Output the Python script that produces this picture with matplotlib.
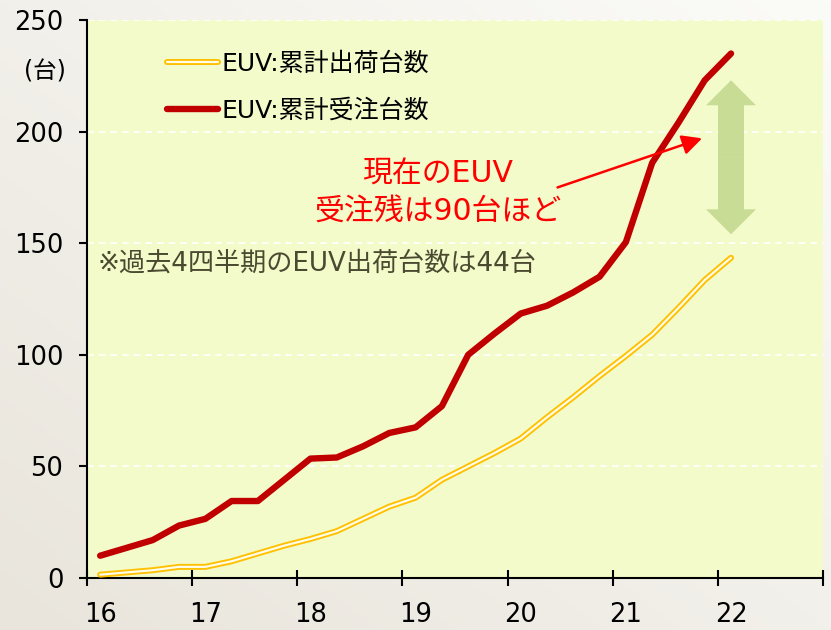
import numpy as np
import matplotlib
matplotlib.use("Agg")
import matplotlib.pyplot as plt
from matplotlib.lines import Line2D
from matplotlib.legend_handler import HandlerTuple

plt.rcParams['font.family'] = ['DejaVu Sans', 'Noto Sans CJK JP']

# 四半期ごとの累計台数 (16Q1 - 22Q1)
year_labels = ["16", "17", "18", "19", "20", "21", "22"]
orders = [10, 13.5, 17, 23.5, 26.5, 34.5, 34.5, 44, 53.5, 54, 59, 65, 67.5, 77,
          100, 109.5, 118.5, 122, 128, 135, 150.5, 186, 204, 223, 235]
shipments = [1.5, 2.5, 3.5, 5, 5, 7.5, 11, 14.5, 17.5, 21, 26.5, 32, 36, 44,
             50, 56, 62.5, 72, 81, 90.5, 99.5, 109, 121, 133.5, 143.5]

x = np.arange(len(orders))
n_cat = 4 * len(year_labels)

fig = plt.figure(figsize=(8.31, 6.30), dpi=100)
fig.patch.set_facecolor('#efede6')

# 背景のグラデーション
bg = fig.add_axes([0, 0, 1, 1], zorder=-10)
gx, gy = np.meshgrid(np.linspace(0, 1, 200), np.linspace(0, 1, 200))
grad = 0.5 * gx + 0.5 * (1 - gy)
bg.imshow(grad, cmap=matplotlib.colors.LinearSegmentedColormap.from_list(
    'bgc', ['#e9e5dc', '#fbfbf8']), aspect='auto', extent=[0, 1, 0, 1])
bg.axis('off')

ax = fig.add_axes([0.1047, 0.0825, 0.8857, 0.8857])
ax.set_facecolor('#f4fbcb')

ax.set_xlim(-0.5, n_cat - 0.5)
ax.set_ylim(0, 250)

ax.yaxis.grid(True, color='white', linestyle=(0, (4, 3)), linewidth=1.2)
ax.set_axisbelow(True)

# 出荷 (二重線)
ax.plot(x, shipments, color='#ffc000', linewidth=4.3, solid_capstyle='round',
        solid_joinstyle='round', zorder=3)
ax.plot(x, shipments, color='#fffde8', linewidth=1.6, solid_capstyle='round',
        solid_joinstyle='round', zorder=4)
# 受注
ax.plot(x, orders, color='#c00000', linewidth=4.6, solid_capstyle='round',
        solid_joinstyle='round', zorder=5)

# 凡例
h_ship = (Line2D([], [], color='#ffc000', linewidth=4.3, solid_capstyle='round'),
          Line2D([], [], color='#fffde8', linewidth=1.6, solid_capstyle='round'))
h_ord = Line2D([], [], color='#c00000', linewidth=4.6, solid_capstyle='round')
leg = ax.legend([h_ship, h_ord], ["EUV:累計出荷台数", "EUV:累計受注台数"],
                handler_map={tuple: HandlerTuple(ndivide=1)},
                loc='upper left', bbox_to_anchor=(0.078, 0.984), frameon=False,
                fontsize=18, handlelength=2.05, handletextpad=0.15, labelspacing=0.92)

# 軸
for s in ['top', 'right']:
    ax.spines[s].set_visible(False)
ax.spines['left'].set_linewidth(1.5)
ax.spines['bottom'].set_linewidth(1.5)

ax.set_yticks([0, 50, 100, 150, 200, 250])
ax.tick_params(axis='y', direction='out', length=6, width=1.5, pad=11, labelsize=18.5)

ax.set_xticks(np.arange(-0.5, n_cat, 4))
ax.set_xticklabels([])
ax.set_xticks(np.arange(0, n_cat, 4), minor=True)
ax.set_xticklabels(year_labels, minor=True)
ax.tick_params(axis='x', which='major', direction='inout', length=12, width=1.5)
ax.tick_params(axis='x', which='minor', length=0, pad=17, labelsize=18.5)

fig.text(45 / 831, 1 - 72 / 630, "(台)", fontsize=17, ha='center', va='center')

# 注記
ax.text(-0.1, 141, "※過去4四半期のEUV出荷台数は44台", fontsize=18.8, color='#4a4a30',
        ha='left', va='center')
ax.text(17.55, 172.6, "現在のEUV\n受注残は90台ほど", fontsize=21.5, color='#ff0000',
        ha='right', va='center', multialignment='center', linespacing=1.4)
ax.annotate("", xy=(22.9, 197), xytext=(17.4, 175),
            arrowprops=dict(arrowstyle='-|>', color='#ff0000', lw=1.8,
                            mutation_scale=30, shrinkA=0, shrinkB=0), zorder=6)

# 受注残の両矢印
mid = 188.6
for tip in (223, 154):
    ax.annotate("", xy=(24, tip), xytext=(24, mid),
                arrowprops=dict(arrowstyle='simple,head_length=0.5,head_width=1.0,tail_width=0.52',
                                color='#c8dc96', mutation_scale=36, shrinkA=0, shrinkB=0,
                                linewidth=0), zorder=2)

fig.savefig("out.png", dpi=100, facecolor=fig.get_facecolor())
